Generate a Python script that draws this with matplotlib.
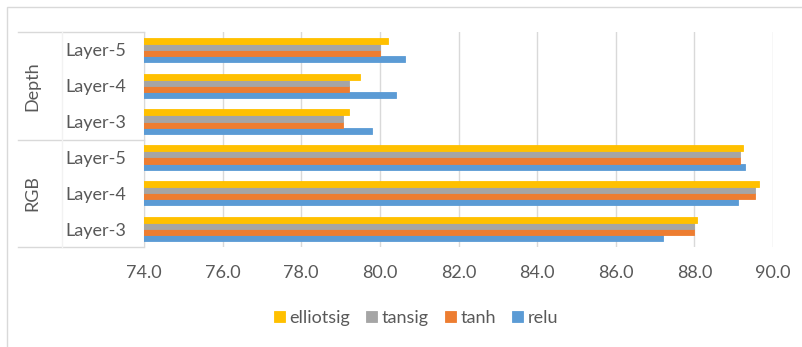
import matplotlib.pyplot as plt
import numpy as np
from matplotlib.lines import Line2D
from matplotlib.patches import Rectangle

plt.rcParams['font.family'] = ['Lato', 'DejaVu Sans']

# categories bottom -> top (Excel order)
groups = ['RGB', 'Depth']
layers = ['Layer-3', 'Layer-4', 'Layer-5']
series = ['relu', 'tanh', 'tansig', 'elliotsig']
colors = ['#5B9BD5', '#ED7D31', '#A5A5A5', '#FFC000']

# values per category: RGB L3, L4, L5, Depth L3, L4, L5
relu = [87.2, 89.1, 89.3, 79.8, 80.4, 80.65]
tanh = [88.0, 89.55, 89.15, 79.07, 79.22, 80.0]
tansig = [88.0, 89.55, 89.15, 79.07, 79.22, 80.0]
elliotsig = [88.07, 89.65, 89.23, 79.22, 79.5, 80.2]
values = [relu, tanh, tansig, elliotsig]

xticks = np.arange(74.0, 90.1, 2.0)
txt = '#595959'
grid_c = '#D9D9D9'
fs = 13

fig = plt.figure(figsize=(8.03, 3.47), dpi=100)
ax = fig.add_axes([144 / 803, 1 - 247 / 347, 629 / 803, 215 / 347])

n_cat = len(groups) * len(layers)
y = np.arange(n_cat)
h = 0.17
for i, (name, vals, c) in enumerate(zip(series, values, colors)):
    off = (i - 1.5) * h
    ax.barh(y + off, vals, height=h, color=c, edgecolor=c, linewidth=0.6,
            label=name, zorder=3)

ax.set_xlim(74, 90)
ax.set_ylim(-0.5, n_cat - 0.5)
ax.set_xticks(xticks)
ax.set_xticklabels([f'{v:.1f}' for v in xticks], fontsize=fs, color=txt)
ax.tick_params(axis='x', length=0, pad=13)
ax.set_yticks(y)
ax.set_yticklabels(layers * len(groups), fontsize=fs, color=txt, ha='center')
ax.tick_params(axis='y', length=0, pad=35)
ax.grid(axis='x', color=grid_c, linewidth=1, zorder=0)
for s in ['top', 'right', 'bottom']:
    ax.spines[s].set_visible(False)
ax.spines['left'].set_color(grid_c)

# category table lines on the left
tr = ax.get_yaxis_transform()
x0 = (18 - 144) / 629
xm = (62 - 144) / 629
for yy in [-0.5, 2.5, 5.5]:
    ax.add_line(Line2D([x0, 0], [yy, yy], transform=tr, color=grid_c,
                       linewidth=1, clip_on=False))
ax.add_line(Line2D([xm, xm], [-0.5, 5.5], transform=tr, color='#F2F2F2',
                   linewidth=1, clip_on=False))
for gi, g in enumerate(groups):
    ax.text((32 - 144) / 629, gi * 3 + 1, g, transform=tr, rotation=90,
            ha='center', va='center', fontsize=fs, color=txt)

# outer chart border
fig.add_artist(Rectangle((7 / 803, -0.2), 1.5, 1.2 - 7 / 347,
                         transform=fig.transFigure, fill=False,
                         edgecolor=grid_c, linewidth=1))

handles, labels = ax.get_legend_handles_labels()
leg = fig.legend(handles[::-1], labels[::-1], loc='center',
                 bbox_to_anchor=(416 / 803, 1 - 318 / 347), ncol=4,
                 frameon=False, fontsize=fs, handlelength=0.6,
                 handleheight=0.6, handletextpad=0.25, columnspacing=0.9)
for t in leg.get_texts():
    t.set_color(txt)

fig.savefig('out.png', dpi=100)
